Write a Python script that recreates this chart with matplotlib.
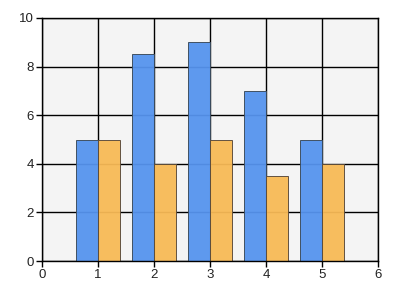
import numpy as np
import matplotlib
matplotlib.use("Agg")
import matplotlib.pyplot as plt

x = [1, 2, 3, 4, 5]
series_a = [5, 8.5, 9, 7, 5]
series_b = [5, 4, 5, 3.5, 4]

fig = plt.figure(figsize=(4, 3), dpi=100)
ax = fig.add_axes([0.105, 0.13, 0.84, 0.81])
ax.set_facecolor('#f4f4f4')

xs = np.array(x)
ax.bar(xs - 0.2, series_a, width=0.4, color='#5694ee', edgecolor='#3a4a5a',
       linewidth=0.7, alpha=0.95, zorder=2)
ax.bar(xs + 0.2, series_b, width=0.4, color='#f8ba56', edgecolor='#5a4a3a',
       linewidth=0.7, alpha=0.95, zorder=2)

ax.set_xlim(0, 6)
ax.set_ylim(0, 10)
ax.set_xticks(range(0, 7))
ax.set_yticks(range(0, 11, 2))
ax.grid(True, color='black', linewidth=1.0, zorder=1)
ax.set_axisbelow(True)
for s in ax.spines.values():
    s.set_color('black')
    s.set_linewidth(1.0)
ax.tick_params(direction='out', length=4, width=1, labelsize=9.5, colors='black', pad=2)
for lbl in ax.get_xticklabels() + ax.get_yticklabels():
    lbl.set_family('Liberation Sans')
    lbl.set_color('#222222')

fig.savefig('out.png', dpi=100)
plt.close()
